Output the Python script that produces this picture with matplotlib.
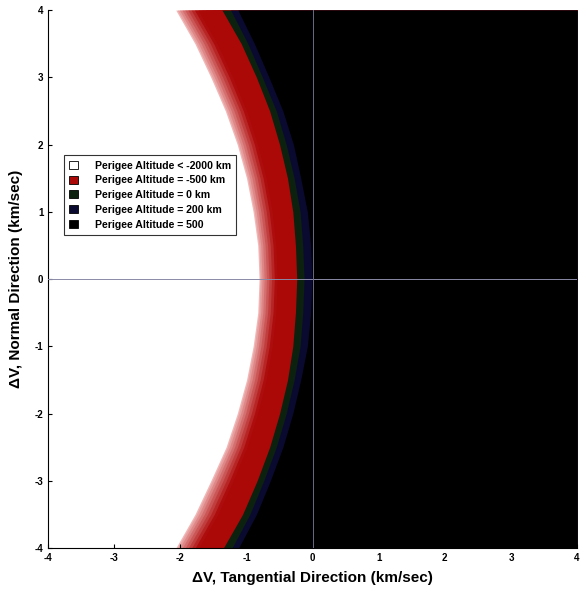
import numpy as np
import matplotlib.pyplot as plt
from matplotlib.patches import Patch
from matplotlib.colors import to_rgb

plt.rcParams['font.family'] = ['Liberation Sans', 'DejaVu Sans']
plt.rcParams['axes.unicode_minus'] = False

# normal direction dV (km/sec) where the band edges were read
dv_normal = [-4, -3.5, -3, -2.5, -2, -1.5, -1, -0.5, 0,
             0.5, 1, 1.5, 2, 2.5, 3, 3.5, 4]
# tangential dV (km/sec) of each band's left edge at those rows
edge_red = [-2.07, -1.78, -1.54, -1.31, -1.14, -1.00, -0.90, -0.83, -0.81,
            -0.83, -0.90, -1.00, -1.14, -1.32, -1.54, -1.78, -2.07]
edge_green = [-1.35, -1.06, -0.84, -0.65, -0.50, -0.38, -0.30, -0.26, -0.24,
              -0.26, -0.30, -0.38, -0.50, -0.65, -0.85, -1.08, -1.37]
edge_blue = [-1.22, -0.95, -0.74, -0.55, -0.40, -0.28, -0.19, -0.15, -0.13,
             -0.15, -0.19, -0.28, -0.40, -0.55, -0.76, -0.98, -1.24]
edge_black = [-1.12, -0.85, -0.64, -0.45, -0.30, -0.18, -0.08, -0.03, -0.01,
              -0.03, -0.08, -0.18, -0.29, -0.45, -0.66, -0.88, -1.13]

labels = ['Perigee Altitude < -2000 km', 'Perigee Altitude = -500 km',
          'Perigee Altitude = 0 km', 'Perigee Altitude = 200 km',
          'Perigee Altitude = 500']
colors = ['#ffffff', '#ab0808', '#0c220e', '#0a0a30', '#000000']

fig = plt.figure(figsize=(5.8, 5.95), dpi=100)
ax = fig.add_axes([0.083, 0.079, 0.912, 0.904])

y = np.array(dv_normal)
r0 = np.array(edge_red)
r1 = np.array(edge_green)

# red band shaded from pink at the outer edge to deep red,
# each layer drawn to the right edge so no seams show
n = 14
pink = np.array(to_rgb('#f6c4c4'))
red = np.array(to_rgb(colors[1]))
for i in range(n):
    a = r0 + (r1 - r0) * (i / n) ** 1.3
    c = pink + (red - pink) * min(1, (i + 0.5) / (n * 0.55))
    ax.fill_betweenx(y, a, 4, color=c, lw=0)

ax.fill_betweenx(y, edge_green, 4, color=colors[2], lw=0)
ax.fill_betweenx(y, edge_blue, 4, color=colors[3], lw=0)
ax.fill_betweenx(y, edge_black, 4, color=colors[4], lw=0)

ax.axhline(0, color='#8a8aa8', lw=0.7, zorder=3)
ax.axvline(0, color='#6a6a88', lw=0.7, zorder=3)

ax.set_xlim(-4, 4)
ax.set_ylim(-4, 4)
ax.set_xticks(range(-4, 5))
ax.set_yticks(range(-4, 5))
ax.tick_params(direction='in', labelsize=7, length=3, width=0.8)
for t in ax.get_xticklabels() + ax.get_yticklabels():
    t.set_fontweight('bold')
ax.spines['top'].set_visible(False)
ax.spines['right'].set_visible(False)

ax.set_xlabel('ΔV, Tangential Direction (km/sec)', fontsize=11,
              fontweight='bold', labelpad=6)
ax.set_ylabel('ΔV, Normal Direction (km/sec)', fontsize=11,
              fontweight='bold', labelpad=8)

handles = [Patch(facecolor=c, edgecolor='black', lw=0.6) for c in colors]
leg = ax.legend(handles, labels, loc='upper left',
                bbox_to_anchor=(0.03, 0.73), fontsize=7.6, frameon=True,
                fancybox=False, handlelength=0.8, handleheight=0.8,
                handletextpad=1.6, borderpad=0.5, labelspacing=0.45,
                borderaxespad=0)
leg.get_frame().set_edgecolor('black')
leg.get_frame().set_linewidth(0.8)
for t in leg.get_texts():
    t.set_fontweight('bold')

fig.savefig('out.png', dpi=100)
